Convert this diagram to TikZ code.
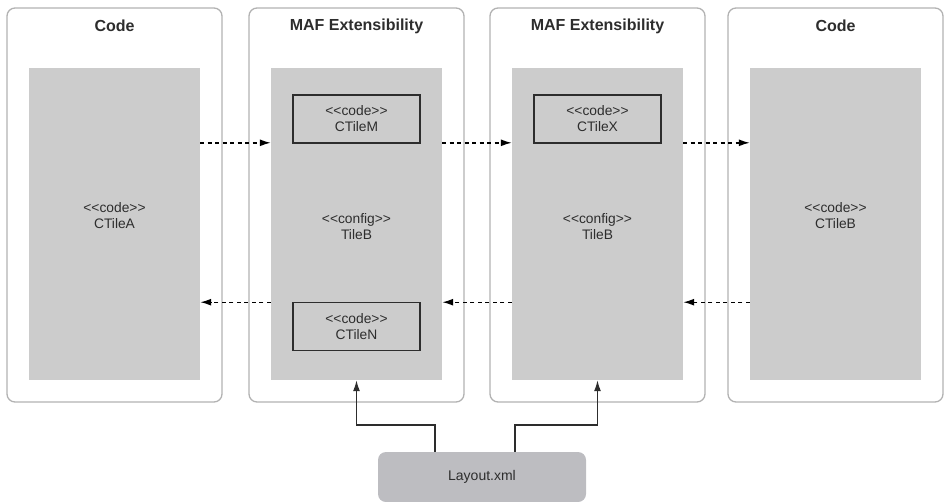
\documentclass[tikz,border=0pt]{standalone}
\usepackage{fontspec}
\setmainfont{Liberation Sans}[Ligatures=TeXOff]
\usetikzlibrary{arrows.meta,positioning}
\definecolor{panelline}{RGB}{178,178,178}
\definecolor{tilefill}{RGB}{204,204,204}
\definecolor{layfill}{RGB}{189,189,193}
\definecolor{ink}{RGB}{45,45,45}

\begin{document}
\begin{tikzpicture}[x=1pt,y=-1pt,
   panel/.style={draw=panelline,line width=1.3pt,rounded corners=8pt,minimum width=215pt,minimum height=394pt,inner sep=0pt},
   title/.style={font=\fontsize{16}{18}\selectfont\bfseries,text=ink},
   tile/.style={fill=tilefill,minimum width=171pt,minimum height=312pt,inner sep=0pt},
   part/.style={draw=ink,line width=1.5pt,minimum width=127pt,minimum height=48pt,inner sep=0pt},
   txt/.style={align=center,text=ink,font=\fontsize{13.8}{16}\selectfont},
   layout/.style={fill=layfill,rounded corners=8pt,minimum width=208pt,minimum height=50pt,inner sep=0pt,text=ink,font=\fontsize{14}{16}\selectfont},
   flow/.style={line width=1.4pt,dash pattern=on 4pt off 3.5pt,-{Latex[length=11pt,width=7pt]}},
   feed/.style={line width=1.4pt,draw=ink,-{Latex[length=11pt,width=7pt]}}]
   \useasboundingbox (0,0) rectangle (945,501);

   % panels
   \node[panel] (p1) at (114.5,205) {};
   \node[panel] (p2) at (356.5,205) {};
   \node[panel] (p3) at (597.5,205) {};
   \node[panel] (p4) at (835.5,205) {};
   \node[title] (t1) at (114.5,26) {Code};
   \node[title] (t2) at (356.5,26) {MAF Extensibility};
   \node[title] (t3) at (597.5,26) {MAF Extensibility};
   \node[title] (t4) at (835.5,26) {Code};

   % gray tiles
   \node[tile] (inA) at (114.5,224) {};
   \node[tile] (inM) at (356.5,224) {};
   \node[tile] (inX) at (597.5,224) {};
   \node[tile] (inB) at (835.5,224) {};
   \node[txt] (cA) at (114.5,216) {<<code>>\\CTileA};
   \node[txt] (cB1) at (356.5,227) {<<config>>\\TileB};
   \node[txt] (cB2) at (597.5,227) {<<config>>\\TileB};
   \node[txt] (cB) at (835.5,216) {<<code>>\\CTileB};

   % code parts
   \node[part,txt] (cM) at (356.5,119) {<<code>>\\CTileM};
   \node[part,txt] (cX) at (597.5,119) {<<code>>\\CTileX};
   \node[part,txt] (cN) at (356.5,326.5) {<<code>>\\CTileN};

   \node[layout] (lay) at (482,477) {Layout.xml};

   \draw[flow] ([yshift=-75pt]inA.north east) -- ([yshift=-75pt]inM.north west);
   \draw[flow] ([yshift=-75pt]inM.north east) -- ([yshift=-75pt]inX.north west);
   \draw[flow] ([yshift=-75pt]inX.north east) -- ([yshift=-75pt]inB.north west);
   \draw[flow] ([yshift=78pt]inM.south west) -- ([yshift=78pt]inA.south east);
   \draw[flow] ([yshift=78pt]inX.south west) -- ([yshift=78pt]inM.south east);
   \draw[flow] ([yshift=78pt]inB.south west) -- ([yshift=78pt]inX.south east);

   \draw[feed] ([xshift=-47pt]lay.north) -- ++(0,-27) -| (inM.south);
   \draw[feed] ([xshift=33pt]lay.north) -- ++(0,-27) -| (inX.south);
\end{tikzpicture}
\end{document}
